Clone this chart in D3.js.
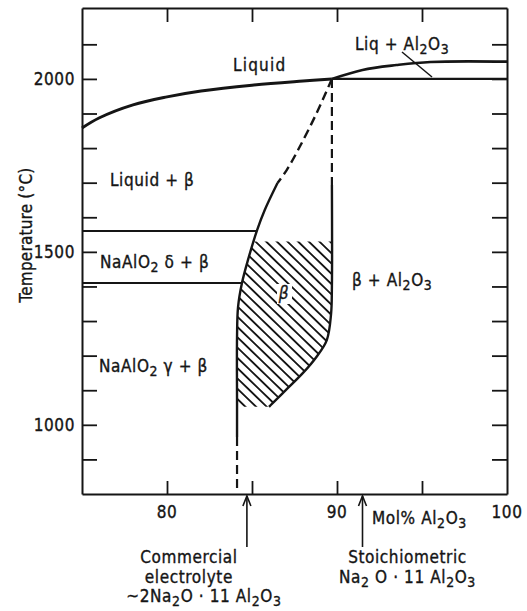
<!DOCTYPE html>
<html>
<head>
<meta charset="utf-8">
<script src="https://cdn.jsdelivr.net/npm/d3@7"></script>
<style>
  body { margin: 0; background: #fff; }
  text { font-family: "DejaVu Sans Condensed", "DejaVu Sans", sans-serif; fill: #151515; stroke: #151515; stroke-width: 0.35px; }
</style>
</head>
<body>
<div id="chart"></div>
<script>
// readings: [mol% Al2O3, temperature °C]
const liquidusLeft = [[75,1858],[76,1887],[78,1925],[80,1948],[82,1965],[85,1982],[88,1994],[89.7,2000]];
const liquidusRight = [[89.7,2000],[91.5,2026],[93.5,2040],[95.5,2049],[100,2050]];
const solidusAl2O3 = [[89.7,2000],[100,2000]];
const deltaLine = [[75,1560],[85.3,1560]];
const gammaLine = [[75,1410],[84.4,1410]];
const betaLeftDashed = [[89.7,2000],[88.8,1901],[87.8,1803],[87.05,1737],[86.5,1699]];
const betaLeftSolid = [[86.5,1699],[85.75,1621],[85.3,1563],[84.76,1476],[84.41,1410],[84.18,1341],[84.12,1254],[84.12,1063],[84.12,965]];
const betaLeftLow = [[84.12,965],[84.12,817]];
const betaRightDashed = [[89.7,2000],[89.7,1693]];
const betaRightSolid = [[89.7,1693],[89.7,1400],[89.65,1320],[89.4,1245],[88.8,1197],[88.0,1150],[87.0,1101],[86.2,1062],[86.0,1052]];
const betaHatch = [[85.1,1530],[89.7,1530],[89.7,1400],[89.65,1320],[89.4,1245],[88.8,1197],[88.0,1150],[87.0,1101],[86.2,1062],[86.0,1052],
                   [84.12,1052],[84.12,1254],[84.18,1341],[84.41,1410],[84.76,1476],[85.1,1530]];
const xTicks = [80,85,90,95];
const xLabels = [80,90,100];
const yTicks = [900,1000,1100,1200,1300,1400,1500,1600,1700,1800,1900,2000,2100];
const yLabels = [1000,1500,2000];
const markers = [
    { value: 84.7, lines: ["Commercial", "electrolyte", "~2Na_2O · 11 Al_2O_3"] },
    { value: 91.5, lines: ["Stoichiometric", "Na_2 O · 11 Al_2O_3"] }
];

function main() {
    const container = document.getElementById("chart");
    const svg = d3.create("svg").attr("width", 527).attr("height", 611);
    const ink = "#151515";

    const x = d3.scaleLinear().domain([75, 100]).range([82, 507]);
    const y = d3.scaleLinear().domain([800, 2205]).range([494, 8]);

    // texto com subscritos: "Al_2O_3"
    function label(g, str, px, py, anchor = "start") {
        const t = g.append("text").attr("x", px).attr("y", py)
            .attr("text-anchor", anchor)
            .attr("font-size", 17)
            .attr("letter-spacing", 0.6);
        let shifted = false;
        str.split(/(_.)/).forEach(p => {
            if (!p) return;
            const sub = p[0] === "_";
            const s = t.append("tspan").text(sub ? p.slice(1) : p);
            if (sub) s.attr("font-size", "0.82em");
            if (sub && !shifted) { s.attr("dy", 4); shifted = true; }
            else if (!sub && shifted) { s.attr("dy", -4); shifted = false; }
        });
        return t;
    }

    // hachura da fase beta
    const defs = svg.append("defs");
    defs.append("pattern")
        .attr("id", "hatch")
        .attr("patternUnits", "userSpaceOnUse")
        .attr("width", 7.4).attr("height", 7.4)
        .attr("patternTransform", "rotate(44)")
        .append("line")
        .attr("x1", 0).attr("x2", 7.4).attr("y1", 3.7).attr("y2", 3.7)
        .attr("stroke", ink).attr("stroke-width", 1.8);

    const line = d3.line().x(d => x(d[0])).y(d => y(d[1])).curve(d3.curveCatmullRom);
    const straight = d3.line().x(d => x(d[0])).y(d => y(d[1]));

    svg.append("path")
        .attr("d", straight(betaHatch))
        .attr("fill", "url(#hatch)");

    // eixos (ticks para dentro)
    const gx = svg.append("g").attr("transform", `translate(0,${y(800)})`)
        .call(d3.axisBottom(x).tickValues(xTicks).tickSizeInner(-13).tickSizeOuter(0).tickFormat(""));
    const gxTop = svg.append("g").attr("transform", `translate(0,${y(2205)})`)
        .call(d3.axisTop(x).tickValues(xTicks).tickSizeInner(-14).tickSizeOuter(0).tickFormat(""));
    const gy = svg.append("g").attr("transform", `translate(${x(75)},0)`)
        .call(d3.axisLeft(y).tickValues(yTicks).tickSizeInner(-15).tickSizeOuter(0).tickFormat(""));
    const gyRight = svg.append("g").attr("transform", `translate(${x(100)},0)`)
        .call(d3.axisRight(y).tickValues(yTicks).tickSizeInner(-15).tickSizeOuter(0).tickFormat(""));

    [gx, gxTop, gy, gyRight].forEach(g => {
        g.selectAll("path.domain").attr("stroke", ink).attr("stroke-width", 2);
        g.selectAll("line").attr("stroke", ink).attr("stroke-width", 1.8);
    });

    const gl = svg.append("g");
    xLabels.forEach(v => label(gl, String(v), x(v), 518, "middle"));
    yLabels.forEach(v => label(gl, String(v), 75, y(v) + 6.5, "end"));

    label(gl, "Temperature (°C)", 0, 0, "middle")
        .attr("transform", "translate(32,235) rotate(-90)")
        .attr("letter-spacing", 0.2);

    label(gl, "Mol% Al_2O_3", 372, 524);

    // curvas do diagrama
    const curves = svg.append("g").attr("fill", "none").attr("stroke", ink);
    curves.append("path").attr("d", line(liquidusLeft)).attr("stroke-width", 3);
    curves.append("path").attr("d", line(liquidusRight)).attr("stroke-width", 2.6);
    curves.append("path").attr("d", straight(solidusAl2O3)).attr("stroke-width", 2.2);
    curves.append("path").attr("d", straight(deltaLine)).attr("stroke-width", 2);
    curves.append("path").attr("d", straight(gammaLine)).attr("stroke-width", 2);
    curves.append("path").attr("d", line(betaLeftDashed)).attr("stroke-width", 2.4).attr("stroke-dasharray", "9,5");
    curves.append("path").attr("d", line(betaLeftSolid)).attr("stroke-width", 2.4);
    curves.append("path").attr("d", straight(betaLeftLow)).attr("stroke-width", 2.2).attr("stroke-dasharray", "9,5");
    curves.append("path").attr("d", straight(betaRightDashed)).attr("stroke-width", 2.2).attr("stroke-dasharray", "9,5");
    curves.append("path").attr("d", line(betaRightSolid)).attr("stroke-width", 2.4);

    // linha indicadora do Liq + Al2O3
    curves.append("line")
        .attr("x1", 402).attr("y1", 52).attr("x2", 432).attr("y2", 77)
        .attr("stroke-width", 1.5);

    // rótulos das regiões
    label(gl, "Liquid", 233, 71).attr("letter-spacing", 1.2);
    label(gl, "Liq + Al_2O_3", 355, 50);
    label(gl, "Liquid + β", 110, 186);
    label(gl, "NaAlO_2 δ + β", 100, 268);
    label(gl, "NaAlO_2 γ + β", 99, 372);
    label(gl, "β + Al_2O_3", 352, 286);

    gl.append("rect").attr("x", 277).attr("y", 284).attr("width", 15).attr("height", 20).attr("fill", "#fff").attr("stroke", "none");
    label(gl, "β", 284, 299, "middle").attr("font-style", "italic");

    // setas de composição
    markers.forEach(m => {
        const mx = x(m.value);
        const top = y(800) + 2;
        svg.append("line")
            .attr("x1", mx).attr("x2", mx).attr("y1", top).attr("y2", 547)
            .attr("stroke", ink).attr("stroke-width", 1.6);
        svg.append("path")
            .attr("d", `M${mx - 4},${top + 10}L${mx},${top}L${mx + 4},${top + 10}`)
            .attr("fill", "none").attr("stroke", ink).attr("stroke-width", 1.6);
        const cx = m.lines.length === 3 ? mx - 58 : mx + 45;
        m.lines.forEach((s, i) => {
            const t = label(gl, s, cx, 563 + i * 19.5, "middle");
            if (i === 2) t.attr("x", cx + 15);
        });
    });

    container.appendChild(svg.node());
}

main();
</script>
</body>
</html>
